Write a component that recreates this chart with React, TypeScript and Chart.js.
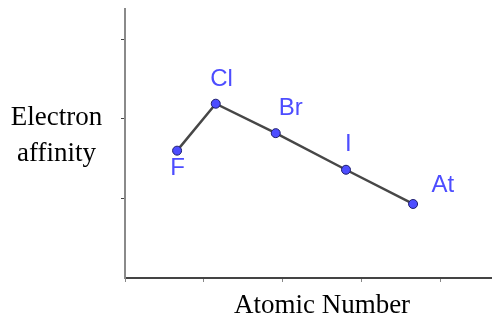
import React, { useEffect, useRef } from "react";
import { Chart, registerables } from "chart.js";

Chart.register(...registerables);

const elements = ["F", "Cl", "Br", "I", "At"];
const xValues = [0.66, 1.15, 1.91, 2.8, 3.65];
const yValues = [1.6, 2.19, 1.82, 1.36, 0.93];
const yTickValues = [1, 2, 3];
const xTickValues = [0, 1, 2, 3, 4];
const yTitleLines = ["Electron", "affinity"];
const xTitle = "Atomic Number";

// label placement (pixels relative to the point: centre x, baseline y)
const labelOffsets: [number, number][] = [
  [0.5, 24],
  [5.7, -17.7],
  [15, -18.3],
  [2.3, -18.3],
  [29.7, -12.3],
];

const LABEL_COLOR = "#4d4dff";

const labelPlugin = {
  id: "elementLabels",
  afterDatasetsDraw(chart: any) {
    const ctx = chart.ctx;
    const meta = chart.getDatasetMeta(0);
    ctx.save();
    ctx.font = '24px "Liberation Sans", Arial, sans-serif';
    ctx.fillStyle = LABEL_COLOR;
    ctx.textAlign = "center";
    ctx.textBaseline = "alphabetic";
    meta.data.forEach((pt: any, i: number) => {
      const [dx, dy] = labelOffsets[i];
      ctx.fillText(elements[i], pt.x + dx, pt.y + dy);
    });
    ctx.restore();
  },
};

const titlePlugin = {
  id: "axisTitles",
  afterDraw(chart: any) {
    const ctx = chart.ctx;
    const area = chart.chartArea;
    ctx.save();
    ctx.font = '27px "Liberation Serif", "Times New Roman", serif';
    ctx.fillStyle = "#000";
    ctx.textAlign = "center";
    ctx.textBaseline = "alphabetic";
    const midY = (area.top + area.bottom) / 2;
    ctx.fillText(yTitleLines[0], 56.5, midY - 18.5);
    ctx.fillText(yTitleLines[1], 56.5, midY + 17.5);
    ctx.fillText(xTitle, 322, 313);
    ctx.restore();
  },
};

export default function App() {
  const ref = useRef<HTMLCanvasElement>(null);
  useEffect(() => {
    document.body.style.margin = "0";
    const chart = new Chart(ref.current!, {
      type: "scatter",
      data: {
        datasets: [
          {
            data: xValues.map((x, i) => ({ x, y: yValues[i] })),
            showLine: true,
            borderColor: "#474747",
            borderWidth: 2.5,
            pointRadius: 4.5,
            pointBackgroundColor: "#4d4dff",
            pointBorderColor: "#1e1e6e",
            pointBorderWidth: 1,
            clip: false,
          },
        ],
      },
      options: {
        animation: false,
        responsive: false,
        events: [],
        layout: { autoPadding: false, padding: { top: 9, left: 0, right: 0, bottom: 0 } },
        plugins: { legend: { display: false }, tooltip: { enabled: false } },
        scales: {
          x: {
            type: "linear",
            min: 0,
            max: 4.65,
            afterBuildTicks: (s: any) => {
              s.ticks = xTickValues.map((v) => ({ value: v }));
            },
            afterFit: (s: any) => {
              s.height = 42;
              s.paddingLeft = 0;
              s.paddingRight = 0;
            },
            border: { display: true, color: "#444444", width: 2 },
            grid: {
              drawOnChartArea: false,
              drawTicks: true,
              tickLength: 4,
              color: "#888888",
              lineWidth: 1,
            },
            ticks: { callback: () => "" },
          },
          y: {
            type: "linear",
            min: 0,
            max: 3.38,
            afterBuildTicks: (s: any) => {
              s.ticks = yTickValues.map((v) => ({ value: v }));
            },
            afterFit: (s: any) => {
              s.width = 125;
              s.paddingTop = 0;
              s.paddingBottom = 0;
            },
            border: { display: true, color: "#8a8a8a", width: 2 },
            grid: {
              drawOnChartArea: false,
              drawTicks: true,
              tickLength: 4,
              color: "#444444",
              lineWidth: 1,
            },
            ticks: { callback: () => "" },
          },
        },
      },
      plugins: [labelPlugin, titlePlugin],
    });
    return () => chart.destroy();
  }, []);
  return (
    <div style={{ width: 492, height: 320 }}>
      <canvas ref={ref} width={492} height={320} style={{ display: "block" }} />
    </div>
  );
}
